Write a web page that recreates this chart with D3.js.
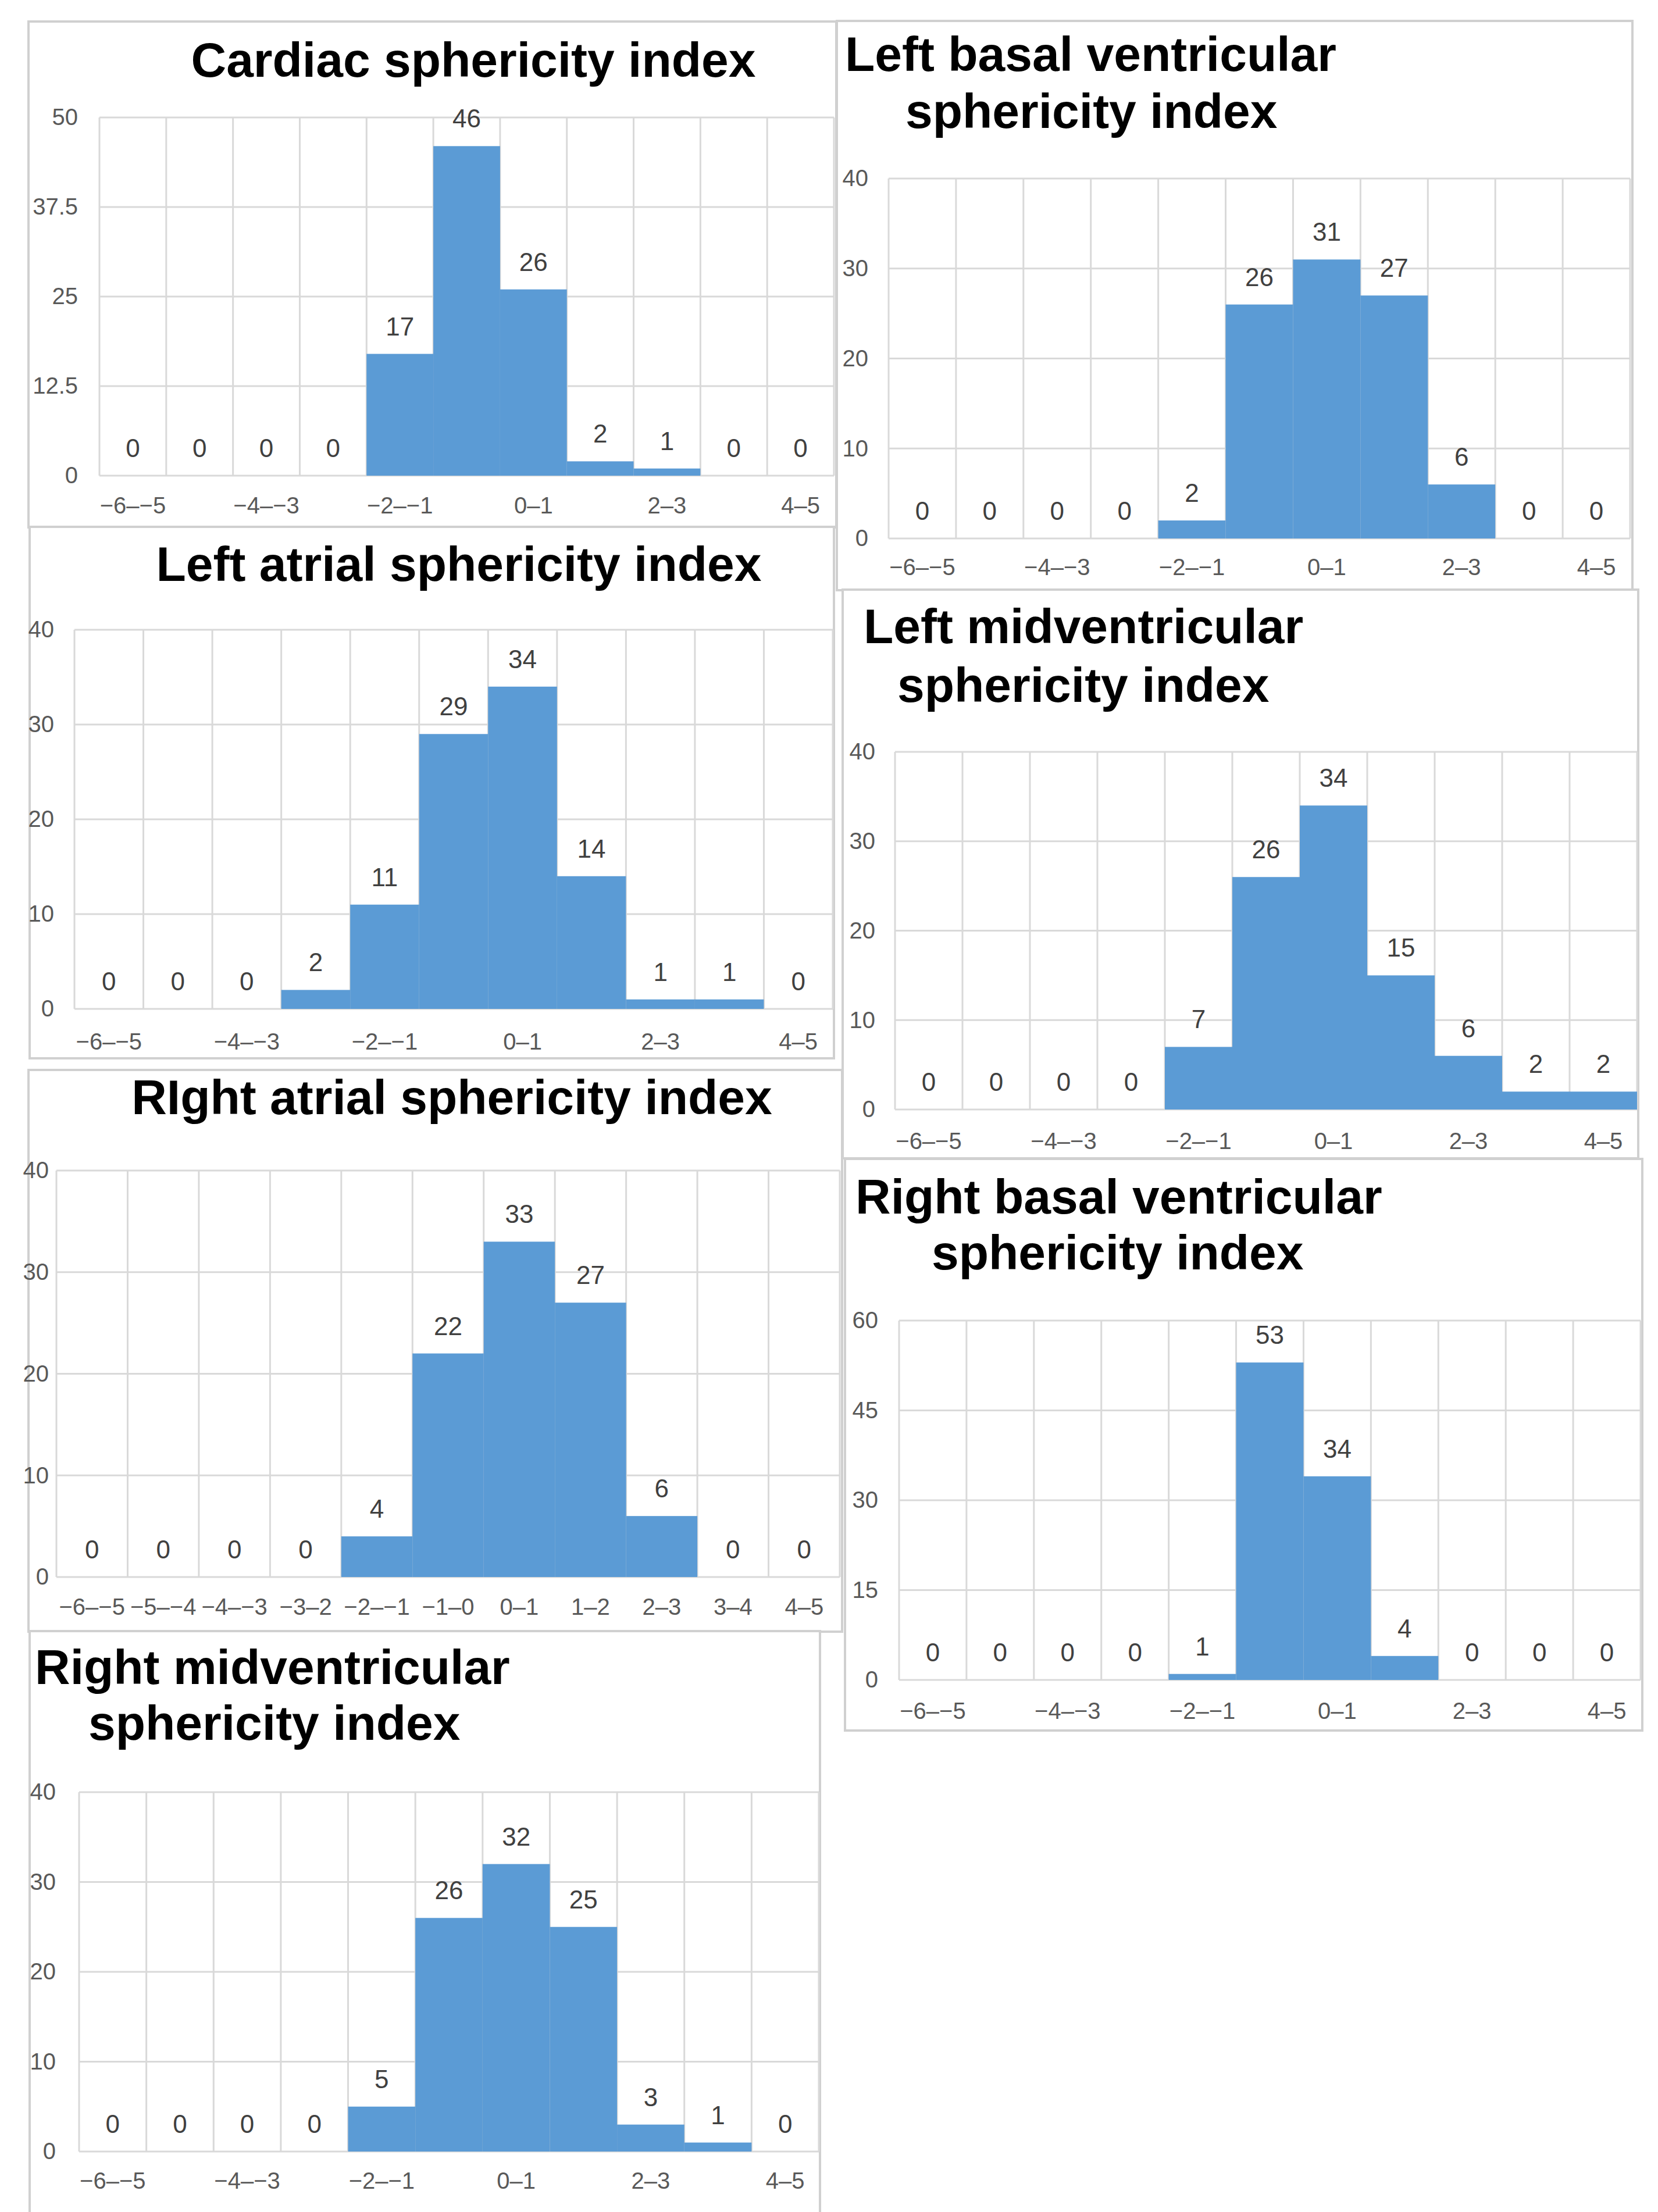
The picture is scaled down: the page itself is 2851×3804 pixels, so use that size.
<!DOCTYPE html>
<html>
<head>
<meta charset="utf-8">
<script src="https://cdn.jsdelivr.net/npm/d3@7/dist/d3.min.js"></script>
<style>
  body { margin: 0; background: #fff; }
  text { font-family: 'Liberation Sans', Arial, sans-serif; }
</style>
</head>
<body>
<svg id="chart"></svg>
<script>
// bin labels
const categories = ['−6–−5', '−5–−4', '−4–−3', '−3–−2', '−2–−1', '−1–0', '0–1', '1–2', '2–3', '3–4', '4–5'];
const rightAtrialCategories = ['−6–−5', '−5–−4', '−4–−3', '−3–2', '−2–−1', '−1–0', '0–1', '1–2', '2–3', '3–4', '4–5'];

// counts per bin
const cardiacValues     = [0, 0, 0, 0, 17, 46, 26, 2, 1, 0, 0];
const leftBasalValues   = [0, 0, 0, 0, 2, 26, 31, 27, 6, 0, 0];
const leftAtrialValues  = [0, 0, 0, 2, 11, 29, 34, 14, 1, 1, 0];
const leftMidValues     = [0, 0, 0, 0, 7, 26, 34, 15, 6, 2, 2];
const rightAtrialValues = [0, 0, 0, 0, 4, 22, 33, 27, 6, 0, 0];
const rightBasalValues  = [0, 0, 0, 0, 1, 53, 34, 4, 0, 0, 0];
const rightMidValues    = [0, 0, 0, 0, 5, 26, 32, 25, 3, 1, 0];

// y tick values
const ticks50 = [0, 12.5, 25, 37.5, 50];
const ticks40 = [0, 10, 20, 30, 40];
const ticks60 = [0, 15, 30, 45, 60];

// titles
const cardiacTitle     = ['Cardiac sphericity index'];
const leftBasalTitle   = ['Left basal ventricular', 'sphericity index'];
const leftAtrialTitle  = ['Left atrial sphericity index'];
const leftMidTitle     = ['Left midventricular', 'sphericity index'];
const rightAtrialTitle = ['RIght atrial sphericity index'];
const rightBasalTitle  = ['Right basal ventricular', 'sphericity index'];
const rightMidTitle    = ['Right midventricular', 'sphericity index'];

const W = 2851, H = 3804;
const barColor = '#5b9bd5';
const gridColor = '#d9d9d9';

// layout of each panel (box = frame, plot = inner area)
const panels = [
  { title: cardiacTitle, values: cardiacValues, ticks: ticks50, cats: categories, every: 2,
    box: [49, 37, 1438, 907], plot: [171, 202, 1434, 818],
    titleX: [814], titleY: [132], anchor: 'middle', yLabelX: 134, xLabelY: 883 },
  { title: leftBasalTitle, values: leftBasalValues, ticks: ticks40, cats: categories, every: 2,
    box: [1439, 36, 2807, 1015], plot: [1528, 307, 2803, 926],
    titleX: [1453, 1557], titleY: [122, 220], anchor: 'start', yLabelX: 1493, xLabelY: 989 },
  { title: leftAtrialTitle, values: leftAtrialValues, ticks: ticks40, cats: categories, every: 2,
    box: [51, 906, 1434, 1820], plot: [128, 1083, 1432, 1735],
    titleX: [789], titleY: [999], anchor: 'middle', yLabelX: 93, xLabelY: 1805 },
  { title: leftMidTitle, values: leftMidValues, ticks: ticks40, cats: categories, every: 2,
    box: [1449, 1014, 2817, 1992], plot: [1539, 1293, 2815, 1908],
    titleX: [1485, 1543], titleY: [1106, 1207], anchor: 'start', yLabelX: 1505, xLabelY: 1976 },
  { title: rightAtrialTitle, values: rightAtrialValues, ticks: ticks40, cats: rightAtrialCategories, every: 1,
    box: [49, 1840, 1448, 2806], plot: [97, 2013, 1444, 2712],
    titleX: [777], titleY: [1916], anchor: 'middle', yLabelX: 84, xLabelY: 2777 },
  { title: rightBasalTitle, values: rightBasalValues, ticks: ticks60, cats: categories, every: 2,
    box: [1453, 1993, 2824, 2976], plot: [1546, 2271, 2821, 2889],
    titleX: [1471, 1602], titleY: [2087, 2183], anchor: 'start', yLabelX: 1510, xLabelY: 2956 },
  { title: rightMidTitle, values: rightMidValues, ticks: ticks40, cats: categories, every: 2,
    box: [51, 2805, 1410, 3820], plot: [136, 3082, 1408, 3700],
    titleX: [60, 152], titleY: [2896, 2992], anchor: 'start', yLabelX: 96, xLabelY: 3764 }
];

const svg = d3.select('#chart')
  .attr('width', W)
  .attr('height', H)
  .attr('viewBox', [0, 0, W, H]);

svg.append('rect').attr('width', W).attr('height', H).attr('fill', '#fff');

panels.forEach(p => {
  const [bx0, by0, bx1, by1] = p.box;
  const [px0, py0, px1, py1] = p.plot;
  const g = svg.append('g');

  // panel frame
  g.append('rect')
    .attr('x', bx0).attr('y', by0)
    .attr('width', bx1 - bx0).attr('height', by1 - by0)
    .attr('fill', '#fff')
    .attr('stroke', '#d0d0d0')
    .attr('stroke-width', 4);

  const x = d3.scaleBand().domain(p.cats).range([px0, px1]).padding(0);
  const y = d3.scaleLinear().domain([0, d3.max(p.ticks)]).range([py1, py0]);

  // horizontal grid
  g.append('g')
    .selectAll('line')
    .data(p.ticks)
    .join('line')
      .attr('x1', px0).attr('x2', px1)
      .attr('y1', d => y(d)).attr('y2', d => y(d))
      .attr('stroke', gridColor)
      .attr('stroke-width', 3);

  // vertical grid at bin edges
  g.append('g')
    .selectAll('line')
    .data([...p.cats.map(c => x(c)), px1])
    .join('line')
      .attr('x1', d => d).attr('x2', d => d)
      .attr('y1', py0).attr('y2', py1)
      .attr('stroke', gridColor)
      .attr('stroke-width', 3);

  // bars
  g.append('g')
    .selectAll('rect')
    .data(p.values)
    .join('rect')
      .attr('x', (d, i) => x(p.cats[i]))
      .attr('y', d => y(d))
      .attr('width', x.bandwidth())
      .attr('height', d => y(0) - y(d))
      .attr('fill', barColor);

  // data labels
  g.append('g')
    .selectAll('text')
    .data(p.values)
    .join('text')
      .attr('x', (d, i) => x(p.cats[i]) + x.bandwidth() / 2)
      .attr('y', d => y(d) - 32)
      .attr('text-anchor', 'middle')
      .attr('font-size', 44)
      .attr('fill', '#404040')
      .text(d => d);

  // y axis labels
  const yAxis = d3.axisLeft(y).tickValues(p.ticks).tickSize(0).tickPadding(0)
    .tickFormat(d3.format('~g'));
  g.append('g')
    .attr('transform', `translate(${p.yLabelX},0)`)
    .call(yAxis)
    .call(a => a.select('.domain').remove())
    .selectAll('text')
      .attr('font-size', 40)
      .attr('font-family', "'Liberation Sans', Arial, sans-serif")
      .attr('fill', '#595959');

  // x axis labels
  const xAxis = d3.axisBottom(x).tickSize(0).tickPadding(0)
    .tickFormat((d, i) => i % p.every === 0 ? d : '');
  g.append('g')
    .attr('transform', `translate(0,${p.xLabelY})`)
    .call(xAxis)
    .call(a => a.select('.domain').remove())
    .selectAll('text')
      .attr('dy', 0)
      .attr('y', 0)
      .attr('font-size', 40)
      .attr('font-family', "'Liberation Sans', Arial, sans-serif")
      .attr('fill', '#595959');

  // title
  g.append('g')
    .selectAll('text')
    .data(p.title)
    .join('text')
      .attr('x', (d, i) => p.titleX[i])
      .attr('y', (d, i) => p.titleY[i])
      .attr('text-anchor', p.anchor)
      .attr('font-size', 84)
      .attr('font-weight', 'bold')
      .attr('fill', '#000')
      .text(d => d);
});
</script>
</body>
</html>
